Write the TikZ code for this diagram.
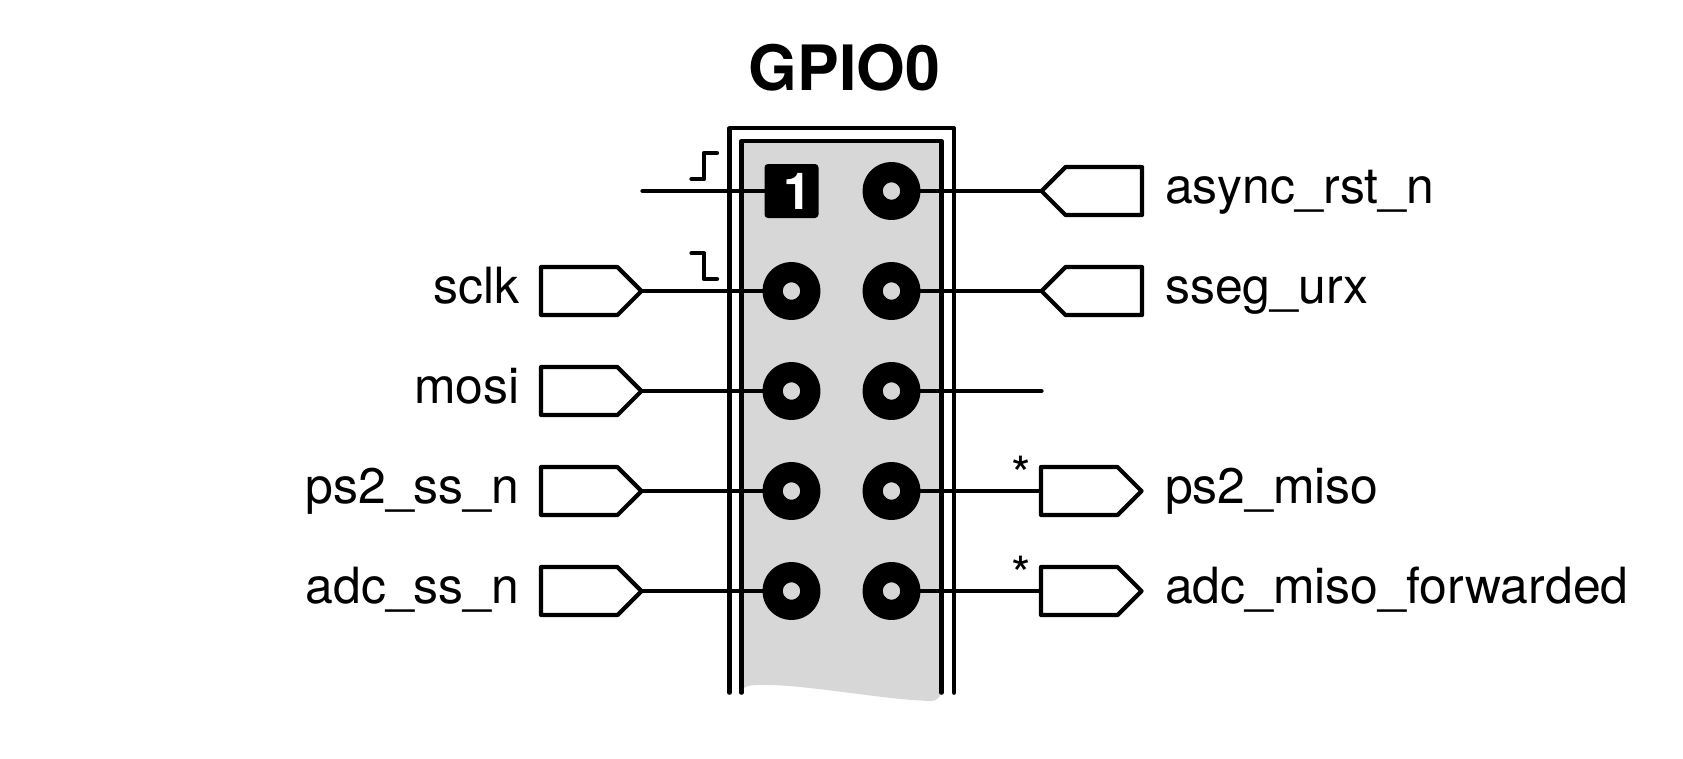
\documentclass[tikz,border=0pt]{standalone}
\usepackage{fontspec}
\setmainfont{TeX Gyre Heros}
\usetikzlibrary{shapes.symbols}
\definecolor{headergray}{HTML}{D7D7D7}
\tikzset{
	wire/.style={line width=1.2pt, line cap=round, line join=round},
	pinring/.style={circle, draw=black, fill=headergray, line width=0.203cm, inner sep=0pt, outer sep=0pt, minimum size=0.377cm},
	pinsquare/.style={rectangle, fill=black, rounded corners=1pt, inner sep=0pt, outer sep=0pt, minimum size=0.54cm, text=white, font=\fontsize{14.5}{15}\selectfont\bfseries},
	portbox/.style={signal, draw=black, fill=white, wire, inner sep=0pt, outer sep=0pt, minimum width=1.005cm, minimum height=0.48cm, signal pointer angle=90},
	portlabel/.style={font=\fontsize{14.2}{16}\selectfont, inner sep=0pt, text=black},
}
\begin{document}
\begin{tikzpicture}[wire]
		\useasboundingbox (-7.915, 1.91) rectangle (8.915, -5.67);
		%header
		\fill[headergray] (-0.5, 0.5) -- (1.5, 0.5) -- (1.5, -5.02)
			.. controls (1.46, -5.12) and (1.38, -5.10) .. (1.3, -5.095)
			.. controls (0.9, -5.08) and (0.1, -4.93) .. (-0.3, -4.94)
			.. controls (-0.42, -4.94) and (-0.48, -4.95) .. (-0.5, -5.0) -- cycle;
		\draw (-0.5, -5.017) -- (-0.5, 0.5) -- (1.5, 0.5) -- (1.5, -5.017);
		\draw (-0.62, -5.017) -- (-0.62, 0.627) -- (1.625, 0.627) -- (1.625, -5.017);
		\node[font=\fontsize{17.8}{20}\selectfont\bfseries, inner sep=0pt, anchor=base] (title) at (0.53, 1.01) {GPIO0};
		%pins
		\node[pinsquare] (pinl1) at (0, 0) {\hspace{0.12cm}1};
		\foreach \r in {2, 3, 4, 5}
			\node[pinring] (pinl\r) at (0, {1-\r}) {};
		\foreach \r in {1, 2, ..., 5}
			\node[pinring] (pinr\r) at (1, {1-\r}) {};
		%left side
		\coordinate (wirel1) at (-1.49, 0);
		\draw (wirel1) -- (pinl1);
		\foreach \r/\txt in {2/sclk, 3/mosi, 4/ps2\_ss\_n, 5/adc\_ss\_n}{
			\node[portbox, signal to=east, anchor=west] (portl\r) at (-2.505, {1-\r}) {};
			\node[portlabel, anchor=base east] (namel\r) at (-2.7, {0.88-\r}) {\txt};
			\draw (portl\r) -- (pinl\r);
		}
		%right side
		\foreach \r/\txt in {1/async\_rst\_n, 2/sseg\_urx}{
			\node[portbox, signal to=west, anchor=east] (portr\r) at (3.505, {1-\r}) {};
			\node[portlabel, anchor=base west] (namer\r) at (3.715, {0.88-\r}) {\txt};
			\draw (pinr\r) -- (portr\r);
		}
		\coordinate (wirer3) at (2.5, -2);
		\draw (pinr3) -- (wirer3);
		\foreach \r/\txt in {4/ps2\_miso, 5/adc\_miso\_forwarded}{
			\node[portbox, signal to=east, anchor=west] (portr\r) at (2.495, {1-\r}) {};
			\node[portlabel, anchor=base west] (namer\r) at (3.715, {0.88-\r}) {\txt};
			\node[portlabel, anchor=base] (star\r) at (2.3, {0.985-\r}) {*};
			\draw (pinr\r) -- (portr\r);
		}
		%edges
		\draw (-1.0, 0.12) -- (-0.875, 0.12) -- (-0.875, 0.38) -- (-0.745, 0.38);
		\draw (-1.0, -0.623) -- (-0.875, -0.623) -- (-0.875, -0.88) -- (-0.745, -0.88);
		\end{tikzpicture}
\end{document}
